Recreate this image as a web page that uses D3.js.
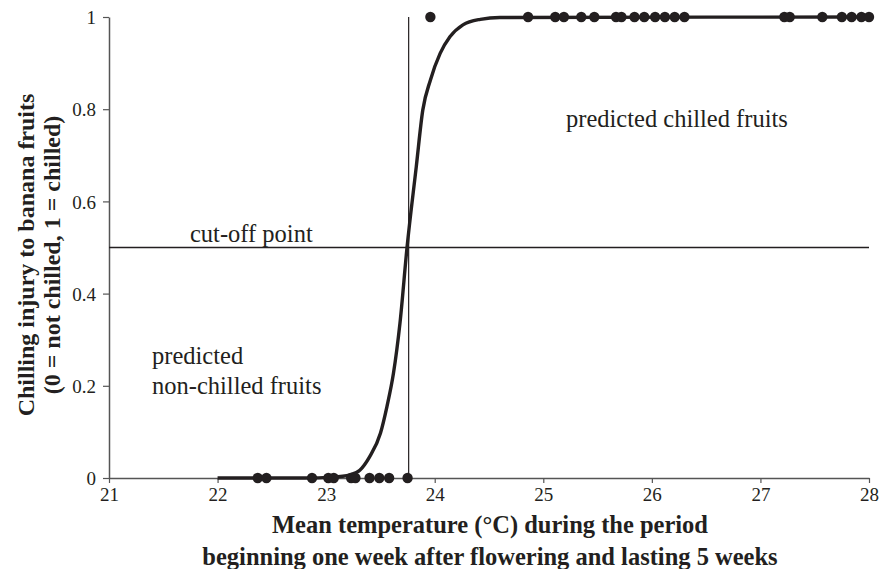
<!DOCTYPE html>
<html>
<head>
<meta charset="utf-8">
<script src="https://cdn.jsdelivr.net/npm/d3@7"></script>
<style>
  html, body { margin: 0; padding: 0; background: #fff; }
  svg { display: block; }
  text { font-family: "Liberation Serif", "Times New Roman", serif; fill: #231f20; }
</style>
</head>
<body>
<div id="chart"></div>
<script>
// observed outcomes (0 = not chilled, 1 = chilled) by mean temperature
const chilledTemps = [23.96, 24.86, 25.11, 25.19, 25.35, 25.47, 25.67, 25.72, 25.84, 25.93,
  26.03, 26.12, 26.21, 26.30, 27.22, 27.27, 27.57, 27.75, 27.84, 27.93, 28.0];
const notChilledTemps = [22.37, 22.45, 22.87, 23.02, 23.07, 23.23, 23.27, 23.40, 23.49, 23.58, 23.75];

// fitted logistic curve
const curveX = [22, 22.8, 23.06, 23.22, 23.31, 23.40, 23.50, 23.56, 23.62, 23.68, 23.745,
  23.83, 23.89, 23.96, 24.05, 24.14, 24.26, 24.42, 24.6, 28];
const curveY = [0, 0, 0.002, 0.007, 0.017, 0.046, 0.097, 0.155, 0.227, 0.336, 0.5,
  0.675, 0.798, 0.863, 0.921, 0.957, 0.983, 0.995, 0.999, 1];

const cutoffProb = 0.5;
const cutoffTemp = 23.76;

const xTicks = [21, 22, 23, 24, 25, 26, 27, 28];
const yTicks = [0, 0.2, 0.4, 0.6, 0.8, 1];

const width = 879, height = 569;

const svg = d3.select("#chart").append("svg")
  .attr("width", width)
  .attr("height", height);

const x = d3.scaleLinear().domain([21, 28]).range([109, 869]);
const y = d3.scaleLinear().domain([0, 1]).range([478, 17]);

/////////////////////////////
// axes
const xAxis = svg.append("g")
  .attr("transform", `translate(0,${y(0)})`)
  .call(d3.axisBottom(x).tickValues(xTicks).tickSize(5).tickSizeOuter(0).tickPadding(5)
    .tickFormat(d3.format("d")));
const yAxis = svg.append("g")
  .attr("transform", `translate(${x(21)},0)`)
  .call(d3.axisLeft(y).tickValues(yTicks).tickSize(6).tickSizeOuter(0).tickPadding(7)
    .tickFormat(d => String(d)));

[xAxis, yAxis].forEach(g => {
  g.attr("font-family", "'Liberation Serif', serif");
  g.select(".domain").attr("stroke", "#555").attr("stroke-width", 1.5);
  g.selectAll(".tick line").attr("stroke", "#555").attr("stroke-width", 1.2);
  g.selectAll(".tick text")
    .attr("fill", "#231f20")
    .style("font-family", "'Liberation Serif', serif")
    .style("font-size", "19px");
});
yAxis.selectAll(".tick text").attr("dy", "0.35em");

/////////////////////////////
// cut-off lines
svg.append("line")
  .attr("x1", x(21)).attr("x2", x(28))
  .attr("y1", y(cutoffProb)).attr("y2", y(cutoffProb))
  .attr("stroke", "#231f20").attr("stroke-width", 1.6);
svg.append("line")
  .attr("x1", x(cutoffTemp)).attr("x2", x(cutoffTemp))
  .attr("y1", y(1)).attr("y2", y(0))
  .attr("stroke", "#231f20").attr("stroke-width", 1.2);

/////////////////////////////
// logistic curve
const line = d3.line()
  .x((d, i) => x(curveX[i]))
  .y(d => y(d))
  .curve(d3.curveMonotoneX);
svg.append("path")
  .datum(curveY)
  .attr("d", line)
  .attr("fill", "none")
  .attr("stroke", "#231f20")
  .attr("stroke-width", 3.4);

/////////////////////////////
// observations
const dots = svg.append("g").attr("fill", "#231f20");
dots.selectAll("circle.c1").data(chilledTemps).join("circle")
  .attr("class", "c1")
  .attr("cx", d => x(d)).attr("cy", y(1)).attr("r", 5.2);
dots.selectAll("circle.c0").data(notChilledTemps).join("circle")
  .attr("class", "c0")
  .attr("cx", d => x(d)).attr("cy", y(0)).attr("r", 5.2);

/////////////////////////////
// annotations
const notes = [
  { t: "predicted chilled fruits", x: 566, y: 127 },
  { t: "cut-off point", x: 190, y: 242 },
  { t: "predicted", x: 152, y: 364 },
  { t: "non-chilled fruits", x: 152, y: 394 }
];
svg.selectAll("text.note").data(notes).join("text")
  .attr("class", "note")
  .attr("x", d => d.x).attr("y", d => d.y)
  .style("font-size", "24.5px")
  .text(d => d.t);

// axis titles
svg.append("text")
  .attr("x", 490).attr("y", 533)
  .attr("text-anchor", "middle")
  .style("font-size", "24.5px").style("font-weight", "bold")
  .text("Mean temperature (°C) during the period");
svg.append("text")
  .attr("x", 490).attr("y", 565)
  .attr("text-anchor", "middle")
  .style("font-size", "24.5px").style("font-weight", "bold")
  .text("beginning one week after flowering and lasting 5 weeks");

const yTitle = svg.append("g").attr("transform", "translate(0,255) rotate(-90)");
yTitle.append("text")
  .attr("x", 0).attr("y", 34)
  .attr("text-anchor", "middle")
  .style("font-size", "24px").style("font-weight", "bold")
  .text("Chilling injury to banana fruits");
yTitle.append("text")
  .attr("x", 0).attr("y", 60)
  .attr("text-anchor", "middle")
  .style("font-size", "24px").style("font-weight", "bold")
  .text("(0 = not chilled, 1 = chilled)");
</script>
</body>
</html>
